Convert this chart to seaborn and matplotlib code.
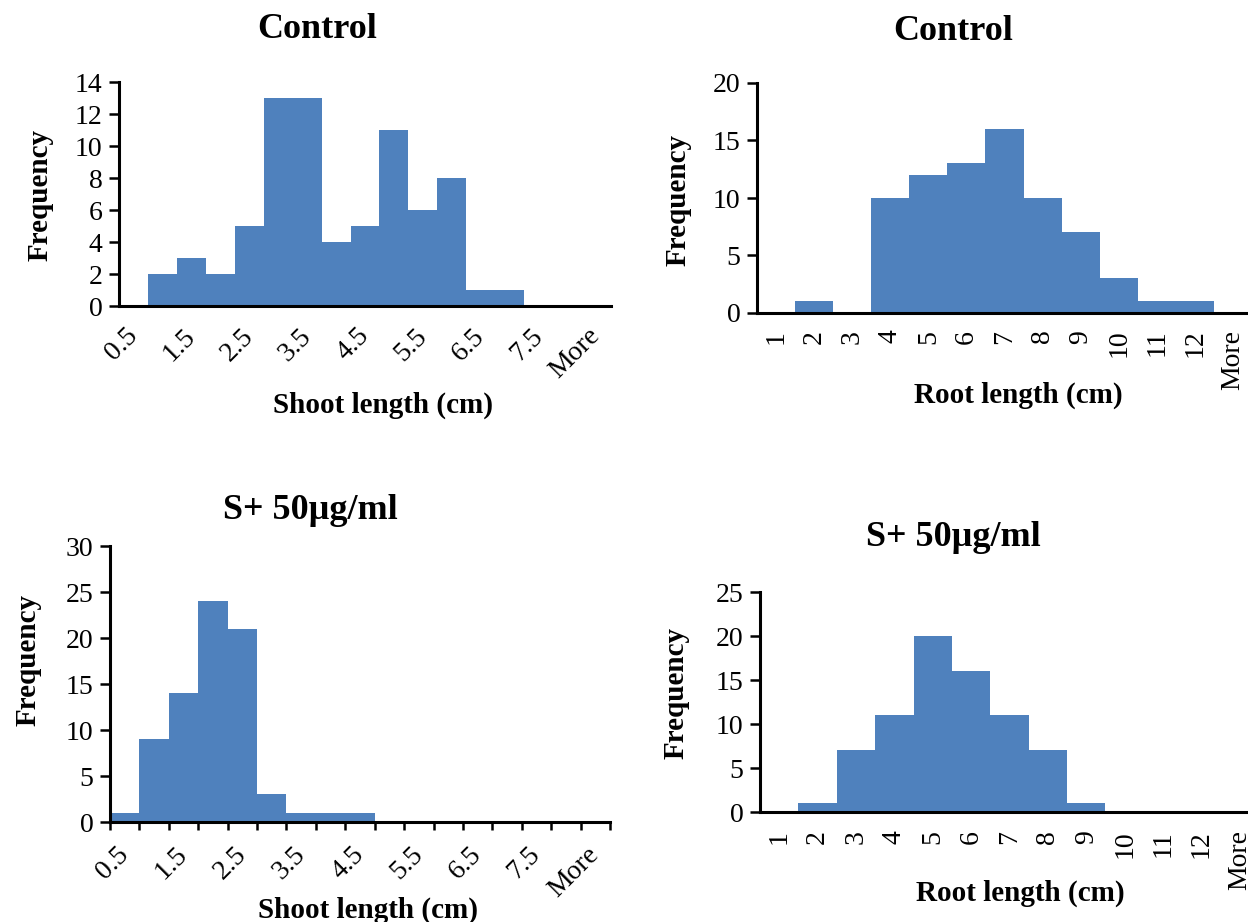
import matplotlib
matplotlib.use("Agg")
import matplotlib.pyplot as plt
import seaborn as sns
import pandas as pd
import numpy as np

# ---- data ----
shoot_bins = ["0.5", "1", "1.5", "2", "2.5", "3", "3.5", "4", "4.5", "5",
              "5.5", "6", "6.5", "7", "7.5", "8", "More"]
shoot_control = [0, 2, 3, 2, 5, 13, 13, 4, 5, 11, 6, 8, 1, 1, 0, 0, 0]
shoot_s50 = [1, 9, 14, 24, 21, 3, 1, 1, 1, 0, 0, 0, 0, 0, 0, 0, 0]

root_bins = ["1", "2", "3", "4", "5", "6", "7", "8", "9", "10", "11", "12", "More"]
root_control = [0, 1, 0, 10, 12, 13, 16, 10, 7, 3, 1, 1, 0]
root_s50 = [0, 1, 7, 11, 20, 16, 11, 7, 1, 0, 0, 0, 0]

titles = ["Control", "Control", "S+ 50µg/ml", "S+ 50µg/ml"]
xlabels = ["Shoot length (cm)", "Root length (cm)", "Shoot length (cm)", "Root length (cm)"]
ylabel = "Frequency"

sns.set_theme(style="white")
plt.rcParams["font.family"] = ["Liberation Serif", "DejaVu Serif"]
plt.rcParams["text.color"] = "black"
plt.rcParams["axes.labelcolor"] = "black"
plt.rcParams["xtick.color"] = "black"
plt.rcParams["ytick.color"] = "black"

W, H = 1248, 922
fig = plt.figure(figsize=(W / 100, H / 100), dpi=100)
fig.patch.set_facecolor("white")

BAR = "#4F81BD"
TICK_FS = 20
LABEL_FS = 21
TITLE_FS = 26


def px_axes(left, right, top, bottom):
    return fig.add_axes([left / W, 1 - bottom / H, (right - left) / W, (bottom - top) / H])


panels = [
    dict(box=(119, 611, 82, 306), cats=shoot_bins, vals=shoot_control, ymax=14, ystep=2,
         rot=45, every=2, xticks=False, xpad=19,
         title=(317, 30), ylab=(40, 195), xlab=(383, 405)),
    dict(box=(757, 1252, 83, 313), cats=root_bins, vals=root_control, ymax=20, ystep=5,
         rot=90, every=1, xticks=False, xpad=12,
         title=(953, 32), ylab=(678, 200), xlab=(1018, 395)),
    dict(box=(110, 610, 546, 822), cats=shoot_bins, vals=shoot_s50, ymax=30, ystep=5,
         rot=45, every=2, xticks=True, xpad=21,
         title=(310, 510), ylab=(28, 660), xlab=(368, 910)),
    dict(box=(760, 1259, 592, 812), cats=root_bins, vals=root_s50, ymax=25, ystep=5,
         rot=90, every=1, xticks=False, xpad=13,
         title=(953, 537), ylab=(676, 693), xlab=(1020, 893)),
]

for i, p in enumerate(panels):
    ax = px_axes(*p["box"])
    df = pd.DataFrame({"bin": p["cats"], "count": p["vals"]})
    sns.barplot(data=df, x="bin", y="count", order=p["cats"], color=BAR,
                saturation=1, width=1.0, linewidth=0, ax=ax)
    n = len(p["cats"])
    ax.set_xlim(-0.5, n - 0.5)
    ax.set_ylim(0, p["ymax"])
    yt = np.arange(0, p["ymax"] + 0.1, p["ystep"])
    ax.set_yticks(yt)
    ax.set_yticklabels([str(int(v)) for v in yt], fontsize=TICK_FS, color="black")
    pos = list(range(0, n, p["every"]))
    ax.set_xticks(pos)
    if p["rot"] == 45:
        ax.set_xticklabels([p["cats"][k] for k in pos], rotation=45, ha="right",
                           va="center", rotation_mode="anchor", fontsize=TICK_FS,
                           color="black")
    else:
        ax.set_xticklabels([p["cats"][k] for k in pos], rotation=90, ha="center",
                           va="top", fontsize=TICK_FS, color="black")
    ax.tick_params(axis="x", which="major", length=0, pad=p["xpad"])
    if p["xticks"]:
        ax.set_xticks(np.arange(-0.5, n, 1.0), minor=True)
        ax.tick_params(axis="x", which="minor", direction="out", length=6, width=1.8,
                       color="black", bottom=True)
    ax.tick_params(axis="y", direction="out", length=7, width=1.8, color="black",
                   left=True, pad=5)
    for s in ["top", "right"]:
        ax.spines[s].set_visible(False)
    for s in ["left", "bottom"]:
        ax.spines[s].set_color("black")
        ax.spines[s].set_linewidth(2.2)
    ax.set_xlabel("")
    ax.set_ylabel("")
    ax.set_facecolor("white")
    ax.grid(False)

    tx, ty = p["title"]
    fig.text(tx / W, 1 - ty / H, titles[i], ha="center", va="center",
             fontsize=TITLE_FS, fontweight="bold", color="black")
    lx, ly = p["ylab"]
    fig.text(lx / W, 1 - ly / H, ylabel, ha="center", va="center", rotation=90,
             fontsize=LABEL_FS, fontweight="bold", color="black")
    xx, xy = p["xlab"]
    fig.text(xx / W, 1 - xy / H, xlabels[i], ha="center", va="center",
             fontsize=LABEL_FS, fontweight="bold", color="black")

fig.savefig("out.png", dpi=100, facecolor="white")
